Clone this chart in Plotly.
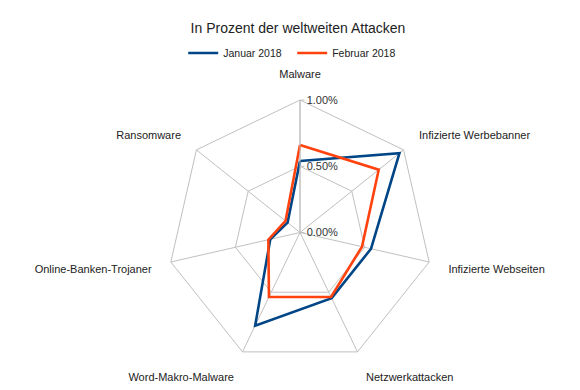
import plotly.graph_objects as go

categories = ["Malware", "Infizierte Werbebanner", "Infizierte Webseiten", "Netzwerkattacken",
              "Word-Makro-Malware", "Online-Banken-Trojaner", "Ransomware"]
januar_2018 = [0.54, 0.96, 0.55, 0.55, 0.78, 0.23, 0.12]
februar_2018 = [0.66, 0.76, 0.48, 0.54, 0.54, 0.245, 0.14]
radial_tickvals = [0, 0.5, 1.0]
radial_ticktext = ["0.00%", "0.50%", "1.00%"]

FONT = "Liberation Sans, Arial, sans-serif"

fig = go.Figure()
for name, vals, color in [("Januar 2018", januar_2018, "#004586"),
                          ("Februar 2018", februar_2018, "#ff420e")]:
    fig.add_trace(go.Scatterpolar(
        r=vals + vals[:1], theta=categories + categories[:1],
        mode="lines", name=name,
        line=dict(color=color, width=2.6),
    ))

fig.update_layout(
    width=580, height=390,
    margin=dict(l=0, r=0, t=0, b=0),
    paper_bgcolor="white",
    font=dict(family=FONT, size=11, color="#333333"),
    title=dict(text="In Prozent der weltweiten Attacken", x=0.5, xanchor="center",
               y=1 - 20 / 390, yanchor="middle", yref="container",
               font=dict(size=14, color="#222222", family=FONT)),
    legend=dict(orientation="h", x=0.49, xanchor="center", y=1 - 45 / 390, yanchor="middle",
                font=dict(size=10.5, color="#222222"), entrywidth=64, entrywidthmode="pixels",
                tracegroupgap=0, bgcolor="rgba(0,0,0,0)"),
    polar=dict(
        domain=dict(x=[159.5 / 580, 424.5 / 580], y=[1 - 357 / 390, 1 - 92 / 390]),
        gridshape="linear",
        bgcolor="white",
        angularaxis=dict(direction="clockwise", rotation=90,
                         gridcolor="#c0c0c0", linecolor="#c0c0c0", showline=True,
                         ticks="outside", ticklen=17, tickcolor="rgba(0,0,0,0)",
                         tickfont=dict(size=11, color="#222222")),
        radialaxis=dict(range=[0, 1], tickvals=radial_tickvals, ticktext=radial_ticktext,
                        angle=90, tickangle=90, side="clockwise",
                        showline=True, linecolor="#c0c0c0",
                        gridcolor="#c0c0c0", ticks="outside", ticklen=4,
                        tickcolor="#c0c0c0", tickfont=dict(size=11, color="#333333")),
    ),
)

fig.write_html("out.html")
